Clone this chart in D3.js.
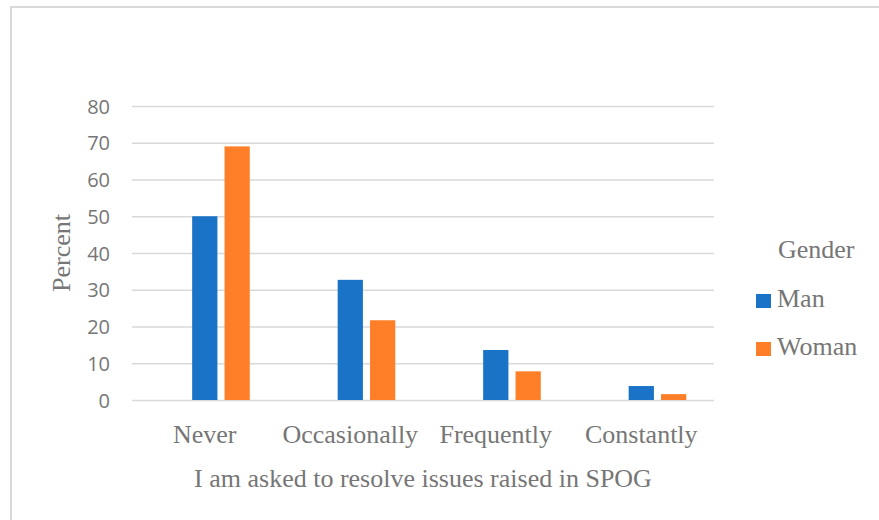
<!DOCTYPE html>
<html>
<head>
<meta charset="utf-8">
<script src="https://cdn.jsdelivr.net/npm/d3@7"></script>
<style>
  html, body { margin: 0; padding: 0; background: #ffffff; }
  svg { display: block; }
</style>
</head>
<body>
<svg id="chart" width="879" height="520"></svg>
<script>
// Survey responses: "I am asked to resolve issues raised in SPOG", by gender (percent)
const categories = ["Never", "Occasionally", "Frequently", "Constantly"];
const seriesNames = ["Man", "Woman"];
const manValues = [50, 32.7, 13.6, 3.8];
const womanValues = [69, 21.7, 7.8, 1.6];
const yTicks = [0, 10, 20, 30, 40, 50, 60, 70, 80];
const yAxisTitle = "Percent";
const xAxisTitle = "I am asked to resolve issues raised in SPOG";
const legendTitle = "Gender";

const colors = { Man: "#1a73c7", Woman: "#fe7f28" };
const textGray = "#767676";
const serif = "'Liberation Serif', 'Times New Roman', serif";
const sans = "'Open Sans', 'Noto Sans', sans-serif";

const rows = categories.map((c, i) => ({ category: c, Man: manValues[i], Woman: womanValues[i] }));

const svg = d3.select("#chart");

// chart frame
svg.append("rect")
  .attr("x", 11).attr("y", 7)
  .attr("width", 900).attr("height", 600)
  .attr("fill", "#ffffff")
  .attr("stroke", "#d9d9d9")
  .attr("stroke-width", 2);

const plot = { left: 132, right: 714, top: 106, bottom: 400 };

const x = d3.scaleBand()
  .domain(categories)
  .range([plot.left, plot.right]);

// bars sit in the right two of three slots within each category band
const bw = x.bandwidth();
const xInner = d3.scaleBand()
  .domain(seriesNames)
  .range([bw * 0.389, bw * 0.834])
  .paddingInner(0.22)
  .paddingOuter(0.11);

const y = d3.scaleLinear()
  .domain([0, 80])
  .range([plot.bottom, plot.top]);

// gridlines
const yAxis = d3.axisLeft(y)
  .tickValues(yTicks)
  .tickSize(-(plot.right - plot.left))
  .tickPadding(22)
  .tickFormat(d3.format("d"));

const gy = svg.append("g")
  .attr("transform", `translate(${plot.left},0)`)
  .call(yAxis);
gy.select(".domain").remove();
gy.selectAll(".tick line")
  .attr("stroke", "#d9d9d9")
  .attr("stroke-width", 1.5);
gy.selectAll(".tick text")
  .attr("fill", textGray)
  .attr("font-family", sans)
  .attr("font-size", 20)
  .attr("dy", "0.35em");

// bars
const groups = svg.append("g").selectAll("g")
  .data(rows)
  .join("g")
  .attr("transform", d => `translate(${x(d.category)},0)`);

groups.selectAll("rect")
  .data(d => seriesNames.map(s => ({ key: s, value: d[s] })))
  .join("rect")
  .attr("x", d => xInner(d.key))
  .attr("width", xInner.bandwidth())
  .attr("y", d => y(d.value))
  .attr("height", d => y(0) - y(d.value))
  .attr("fill", d => colors[d.key]);

// category labels
const xAxis = d3.axisBottom(x).tickSize(0).tickPadding(0);
const gx = svg.append("g")
  .attr("transform", `translate(0,${plot.bottom})`)
  .call(xAxis);
gx.select(".domain").remove();
gx.selectAll(".tick text")
  .attr("fill", textGray)
  .attr("font-family", serif)
  .attr("font-size", 26)
  .attr("dy", 0)
  .attr("y", 43);

// axis titles
svg.append("text")
  .attr("x", (plot.left + plot.right) / 2)
  .attr("y", 487)
  .attr("text-anchor", "middle")
  .attr("fill", textGray)
  .attr("font-family", serif)
  .attr("font-size", 26)
  .text(xAxisTitle);

svg.append("text")
  .attr("transform", `translate(70,253) rotate(-90)`)
  .attr("text-anchor", "middle")
  .attr("fill", textGray)
  .attr("font-family", serif)
  .attr("font-size", 26)
  .text(yAxisTitle);

// legend
const legend = svg.append("g");
legend.append("text")
  .attr("x", 778).attr("y", 258)
  .attr("fill", textGray)
  .attr("font-family", serif)
  .attr("font-size", 26)
  .text(legendTitle);

const items = legend.selectAll("g.item")
  .data(seriesNames)
  .join("g")
  .attr("class", "item")
  .attr("transform", (d, i) => `translate(756,${294 + i * 48})`);
items.append("rect")
  .attr("width", 15).attr("height", 14)
  .attr("fill", d => colors[d]);
items.append("text")
  .attr("x", 21).attr("y", 13)
  .attr("fill", textGray)
  .attr("font-family", serif)
  .attr("font-size", 26)
  .text(d => d);
</script>
</body>
</html>
